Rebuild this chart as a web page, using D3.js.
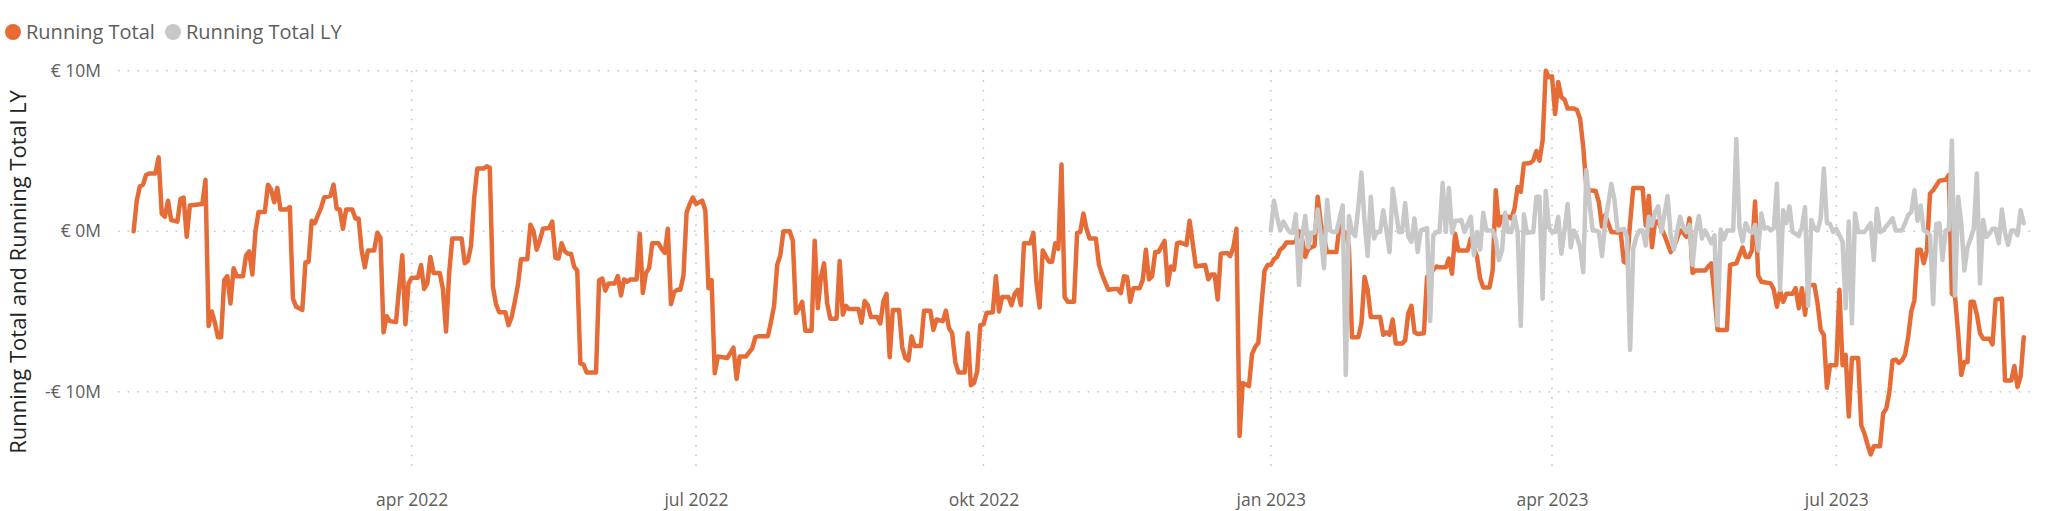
<!DOCTYPE html>
<html>
<head>
<meta charset="utf-8">
<title>Running Total</title>
<script src="https://cdn.jsdelivr.net/npm/d3@7"></script>
<style>
    body { margin: 0; background: #ffffff; }
    svg { display: block; }
</style>
</head>
<body>
<svg id="drawing_region"></svg>
<script>
// days counted from 1 jan 2022, values in millions of euro
const rtDays = [1,2,3,4,5,6,8,9,10,11,12,13,15,16,17,18,19,23,24,25,26,27,28,29,30,31,32,33,34,36,37,38,39,40,41,43,44,45,46,47,48,50,51,52,53,54,55,56,57,58,59,60,61,62,64,65,66,67,68,69,71,72,73,74,75,76,78,79,80,81,82,83,85,86,87,88,89,90,
    92,93,94,95,96,97,99,100,101,102,103,106,107,108,109,110,111,113,114,115,116,117,118,120,121,122,123,124,125,127,128,129,130,131,132,134,135,136,137,138,139,140,141,142,143,144,145,146,149,150,151,152,153,155,156,157,158,159,160,162,163,164,165,166,167,169,170,171,172,173,174,175,176,177,178,179,180,181,
    183,184,185,186,187,188,191,193,194,195,197,199,200,201,204,205,206,207,208,209,211,212,213,214,215,216,218,219,220,221,222,223,224,226,227,228,229,230,233,234,235,236,237,239,240,241,242,243,244,246,247,248,249,250,251,253,254,256,257,258,260,261,262,263,264,265,267,268,269,270,271,272,273,274,276,277,
    278,279,281,282,283,284,285,286,288,289,290,291,292,293,294,295,296,297,298,299,300,302,303,304,305,306,307,309,310,311,313,315,316,317,318,319,320,321,323,324,325,326,327,328,329,331,332,333,334,335,336,338,339,340,341,344,345,346,347,348,349,351,352,353,354,355,356,358,359,360,361,362,363,364,365,366,367,368,369,370,372,373,
    374,375,376,377,378,379,380,381,383,386,387,388,389,390,391,393,394,395,396,397,400,401,402,403,404,405,407,408,409,410,411,412,414,415,416,417,418,419,421,422,423,424,425,428,429,431,432,433,435,436,437,438,439,441,442,443,444,445,446,448,449,450,451,452,453,454,455,456,457,458,459,460,462,463,464,465,466,467,469,470,471,472,473,474,477,478,479,480,481,484,485,486,487,
    488,489,491,493,494,496,497,498,499,500,501,504,505,506,507,508,509,511,512,514,516,517,518,519,520,521,522,525,526,527,528,529,530,532,533,534,535,536,537,539,540,541,542,543,544,546,547,548,549,550,551,553,554,555,556,557,558,560,561,562,563,564,565,566,567,568,569,570,571,572,573,574,575,576,577,578,579,581,582,583,584,585,586,587,588,589,590,591,592,593,595,596,597,599,600,602,603,604,605,606];
const rtValues = [0,1.9,2.8,2.9,3.5,3.6,3.6,4.6,1.1,0.9,1.9,0.7,0.6,2.0,2.1,-0.35,1.6,1.7,3.2,-5.9,-5.0,-5.7,-6.6,-6.6,-3.05,-2.8,-4.5,-2.3,-2.8,-2.8,-1.5,-1.25,-2.7,0,1.2,1.2,2.9,2.6,1.8,2.7,1.35,1.35,1.5,-4.2,-4.7,-4.8,-4.9,-1.95,-1.9,0.65,0.5,1.0,1.45,2.1,2.2,2.9,1.4,1.35,0.15,1.35,1.35,0.8,0.8,-1.2,-2.25,-1.2,-1.2,-0.1,-0.4,-6.3,-5.3,-5.6,-5.65,-3.5,-1.5,-5.8,-3.25,-2.9,
    -2.9,-2.1,-3.6,-3.25,-1.6,-2.6,-2.6,-3.6,-6.25,-2.6,-0.45,-0.45,-2.0,-1.85,-0.9,2.05,3.9,3.9,4.05,3.95,-3.45,-4.55,-5.05,-5.05,-5.85,-5.35,-4.4,-3.35,-1.75,-1.75,0.4,0,-1.15,-0.6,0.15,0.2,0.6,-1.65,-1.7,-0.75,-1.25,-1.4,-1.4,-2.2,-2.45,-8.25,-8.3,-8.8,-8.8,-3.05,-2.95,-3.7,-3.25,-3.25,-2.8,-4.0,-3.0,-3.15,-3.0,-3.0,-0.15,-3.85,-2.6,-2.3,-0.75,-0.75,-1.1,-1.35,0.15,-4.55,-3.8,-3.65,-3.65,-2.75,1.15,1.7,2.1,1.7,
    1.9,1.3,-3.55,-3.05,-8.85,-7.8,-7.9,-7.25,-9.2,-7.8,-7.8,-7.3,-6.6,-6.55,-6.55,-5.65,-4.65,-2.1,-1.5,0,0,-0.6,-5.1,-4.8,-4.4,-6.2,-6.2,-0.6,-4.8,-2.85,-2.0,-4.5,-5.45,-5.45,-1.85,-5.2,-4.65,-4.85,-4.85,-5.7,-4.35,-4.6,-5.35,-5.35,-5.75,-4.35,-3.9,-7.85,-4.9,-4.9,-7.2,-7.9,-8.05,-6.55,-7.15,-7.15,-4.95,-4.95,-6.15,-5.5,-5.6,-4.95,-6.05,-6.35,-8.15,-8.8,-8.8,-6.35,-9.6,-9.45,-8.75,-5.85,-5.8,-5.1,-5.05,-2.8,
    -5.0,-4.1,-4.1,-4.6,-3.9,-3.65,-4.6,-0.75,-0.75,-0.1,-3.25,-4.75,-1.2,-1.55,-1.9,-1.9,-0.75,-1.1,4.15,-4.1,-4.4,-4.4,-0.1,-0.05,1.1,0.15,-0.45,-0.45,-2.1,-2.7,-3.65,-3.6,-3.6,-3.85,-2.8,-2.85,-4.4,-3.55,-3.55,-3.05,-1.15,-3.0,-2.8,-1.3,-1.3,-0.6,-3.35,-2.2,-2.4,-0.75,-0.7,-0.85,0.65,-0.75,-2.2,-2.1,-3.0,-2.7,-2.7,-4.25,-1.4,-1.35,-1.55,-1.0,0.15,-12.75,-9.45,-9.65,-7.65,-7.2,-6.95,-4.6,-2.45,-2.1,-2.1,-1.75,-1.6,-1.15,-1.0,-0.7,-0.7,-0.65,
    0,-0.5,-1.6,-1.1,-1.0,-0.9,2.15,0.5,-1.3,-1.3,0.35,0,-0.1,-1.0,-6.6,-6.6,-5.75,-2.85,-3.65,-5.35,-5.35,-6.45,-6.3,-6.45,-5.5,-7.0,-7.0,-6.8,-5.1,-4.65,-6.3,-6.4,-6.35,-2.85,-2.65,-2.4,-2.2,-2.25,-2.25,-1.7,-2.65,-0.15,-1.2,-1.2,-0.45,-1.6,-2.95,-3.5,-3.5,-2.45,2.55,0.35,0.9,0.9,0.8,1.4,2.75,2.45,4.2,4.25,4.4,5.0,4.4,5.65,10.0,9.6,9.65,7.3,9.3,8.35,8.2,7.65,7.65,7.55,7.0,5.25,2.75,2.55,2.5,1.8,0.3,1.0,0.5,-0.05,-0.1,-1.9,-2.0,0.5,2.7,2.7,0.35,2.2,-1.0,
    0.6,0.6,-0.25,-1.3,-1.0,0.05,-0.1,-0.35,0.8,-2.6,-2.45,-2.45,-2.2,-2.0,-4.0,-6.15,-6.15,-6.15,-2.1,-2.0,-1.0,-1.6,-1.6,-1.2,1.85,-2.75,-3.15,-3.25,-3.65,-4.7,-3.7,-4.4,-3.9,-3.9,-3.55,-4.8,-3.55,-5.2,-3.35,-3.35,-4.5,-6.15,-6.45,-9.75,-8.35,-8.35,-3.65,-8.35,-7.7,-11.55,-7.9,-7.9,-12.1,-12.6,-13.3,-13.9,-13.4,-13.4,-11.35,-11.05,-10.0,-8.05,-8.0,-8.2,-8.05,-7.7,-6.6,-5.0,-4.3,-1.15,-1.15,-2.0,-1.2,2.35,2.55,2.85,3.15,3.2,3.5,-3.9,-4.05,-6.35,-8.95,-8.15,-8.15,-4.4,-4.4,-5.2,-6.35,-6.7,-6.7,-7.05,-4.25,-4.2,-9.3,-9.3,-8.4,-9.7,-9.05,-6.6];

const lyDays = [365,366,367,368,369,370,371,372,373,374,375,376,377,378,379,380,381,382,383,384,385,386,388,389,390,391,392,393,394,395,396,397,398,399,400,401,402,403,404,405,406,407,408,409,410,411,412,413,415,416,417,418,419,420,421,422,423,424,425,426,427,429,430,431,432,433,434,436,437,438,439,440,441,442,443,444,445,446,447,449,450,451,452,453,454,455,456,457,458,459,460,461,462,463,464,465,466,467,468,469,470,471,472,474,475,476,478,479,480,481,482,483,484,485,486,
    487,488,489,490,492,493,494,495,496,497,498,499,500,501,502,503,504,505,506,507,508,509,510,511,513,514,515,516,517,518,519,520,521,522,523,524,525,526,527,528,529,530,531,532,533,534,535,536,537,538,539,540,541,542,543,544,545,546,547,548,549,550,551,552,553,555,557,558,559,560,561,562,564,565,567,568,569,570,571,572,573,574,575,576,577,578,579,580,581,582,583,584,585,586,587,588,589,590,591,592,593,594,595,596,597,598,599,600,601,602,603,604,605,606];
const lyValues = [0.05,1.9,0.9,0.05,0.6,0.25,-0.05,-0.1,1.05,-3.35,-0.35,0.95,-1.0,-0.1,-0.1,1.35,-0.25,-2.3,1.95,0.05,-0.05,-0.05,1.6,-8.95,0.95,-0.05,-0.3,1.5,3.65,0.6,-1.55,2.15,-0.45,-0.05,-0.05,1.3,0.05,-1.3,2.65,1.3,-0.05,-0.05,1.75,-0.35,-0.65,0.8,-1.3,0.05,0.2,-5.6,-0.25,-0.05,-0.05,3.0,-0.05,2.7,-0.1,0.65,0.65,0.7,-0.05,0.9,-1.5,-0.05,-1.15,1.15,0.05,0.05,-0.5,-1.8,-1.2,1.15,-0.05,-0.05,0.95,-0.05,-5.9,1.05,-0.1,-0.05,2.15,2.15,-4.2,2.5,0.25,-0.05,-0.05,0.9,-1.4,0.05,1.7,-1.0,0.05,-0.35,-1.0,-2.55,3.8,1.8,0.05,0.05,-0.05,-1.55,0.5,2.95,1.95,0.05,0.15,-0.35,-7.4,-1.1,-0.35,0.05,0.05,-0.9,0.9,
    0.35,1.2,1.55,-0.05,2.2,-0.25,-1.15,-0.05,0.9,0.25,-0.05,0.4,-2.1,-0.05,0.95,-0.45,0.05,-0.35,-0.75,-0.25,-5.85,0.1,-0.5,0.05,0.05,5.75,0.25,-0.65,0.5,0.05,-0.1,0.4,-1.2,1.1,0.15,0.25,0.05,0.2,2.95,-3.65,1.3,0.5,1.55,-0.05,-0.15,-0.3,0.25,1.5,-4.65,0.7,0.15,0.05,0.8,3.9,0.5,0.45,-0.05,0.15,-0.25,-0.65,-4.8,0.6,-5.75,1.1,-0.05,-0.05,0.5,-1.8,1.4,-0.05,0.05,0.3,0.8,0.05,0.05,0.5,1.0,1.2,2.55,0.65,1.6,0.05,-0.05,-0.25,-4.55,0.45,0.5,-1.8,0.05,0.1,5.65,-4.0,2.15,0.5,-2.45,-1.0,-0.45,0.15,3.6,-3.25,0.7,-0.35,-0.15,0.15,0.15,-0.75,1.35,-0.1,-0.85,0.05,0.05,-0.25,1.3,0.5];

const seriesNames = ['Running Total', 'Running Total LY'];
const seriesColors = ['#E66C37', '#C8C8C8'];
const yTicks = [-10, 0, 10];
const yTickLabels = ['-€ 10M', '€ 0M', '€ 10M'];
const xTickDates = ['2022-04-01', '2022-07-01', '2022-10-01', '2023-01-01', '2023-04-01', '2023-07-01'];
const xTickLabels = ['apr 2022', 'jul 2022', 'okt 2022', 'jan 2023', 'apr 2023', 'jul 2023'];
const yTitle = 'Running Total and Running Total LY';

const startDate = Date.UTC(2022, 0, 1);
const toDate = d => d3.utcDay.offset(new Date(startDate), d);

class LineChart {

    constructor( config, series ) {
        this.config = {
            parent: config.parent,
            width: config.width || 256,
            height: config.height || 128,
            margin: config.margin || {top:10, right:10, bottom:20, left:60}
        }
        this.series = series;
        this.init();
    }

    init() {
        let self = this;

        self.svg = d3.select( self.config.parent )
            .attr('width', self.config.width)
            .attr('height', self.config.height)
            .style('font-family', '"Segoe UI", "Open Sans", sans-serif');

        self.chart = self.svg.append('g')
            .attr('transform', `translate(${self.config.margin.left}, ${self.config.margin.top})`);

        self.inner_width = self.config.width - self.config.margin.left - self.config.margin.right;
        self.inner_height = self.config.height - self.config.margin.top - self.config.margin.bottom;

        self.xscale = d3.scaleUtc()
            .domain([toDate(-4), toDate(608)])
            .range([0, self.inner_width]);

        self.yscale = d3.scaleLinear()
            .domain([-15, 10])
            .range([self.inner_height, 0]);

        self.grid_group = self.chart.append('g');
        self.line_group = self.chart.append('g');
        self.xaxis_group = self.chart.append('g')
            .attr('transform', `translate(0, ${self.inner_height})`);
        self.yaxis_group = self.chart.append('g');

        // legend
        self.legend = self.svg.append('g');
        let lx = [13, 173];
        self.series.forEach( (s, i) => {
            self.legend.append('circle')
                .attr('cx', lx[i])
                .attr('cy', 32)
                .attr('r', 8)
                .attr('fill', s.color);
            self.legend.append('text')
                .attr('x', lx[i] + 13)
                .attr('y', 39)
                .attr('fill', '#605E5C')
                .attr('font-size', '20px')
                .text(s.name);
        });

        self.ylabel = self.svg.append('text')
            .attr('fill', '#252423')
            .attr('x', -272)
            .attr('y', 26)
            .attr('transform', 'rotate(-90)')
            .attr('text-anchor', 'middle')
            .attr('font-size', '22px')
            .attr('font-weight', 500)
            .text(yTitle);
    }

    update() {
        let self = this;
        self.series.forEach( s => {
            s.points = s.days.map( (d, i) => ({ date: toDate(d), value: s.values[i] }) );
        });
        self.render();
    }

    render() {
        let self = this;

        // dotted grid lines
        self.grid_group.selectAll('.hgrid').data(yTicks).enter()
            .append('line')
            .attr('x1', 0)
            .attr('x2', self.inner_width)
            .attr('y1', d => self.yscale(d))
            .attr('y2', d => self.yscale(d))
            .attr('stroke', '#C8C6C4')
            .attr('stroke-width', 1.6)
            .attr('stroke-dasharray', '1.6,8');

        self.grid_group.selectAll('.vgrid').data(xTickDates).enter()
            .append('line')
            .attr('x1', d => self.xscale(new Date(d)))
            .attr('x2', d => self.xscale(new Date(d)))
            .attr('y1', self.yscale(10))
            .attr('y2', self.inner_height)
            .attr('stroke', '#C8C6C4')
            .attr('stroke-width', 1.6)
            .attr('stroke-dasharray', '1.6,8');

        const line = d3.line()
            .x(d => self.xscale(d.date))
            .y(d => self.yscale(d.value));

        self.line_group.selectAll('path').data(self.series).enter()
            .append('path')
            .attr('d', d => line(d.points))
            .attr('fill', 'none')
            .attr('stroke', d => d.color)
            .attr('stroke-width', 4.5)
            .attr('stroke-linejoin', 'round')
            .attr('stroke-linecap', 'round');

        self.xaxis = d3.axisBottom( self.xscale )
            .tickValues(xTickDates.map(d => new Date(d)))
            .tickFormat((d, i) => xTickLabels[i])
            .tickSize(0)
            .tickPadding(22);

        self.yaxis = d3.axisLeft( self.yscale )
            .tickValues(yTicks)
            .tickFormat((d, i) => yTickLabels[i])
            .tickSize(0)
            .tickPadding(17);

        self.xaxis_group.call( self.xaxis );
        self.yaxis_group.call( self.yaxis );

        [self.xaxis_group, self.yaxis_group].forEach( g => {
            g.select('.domain').remove();
            g.selectAll('text')
                .attr('fill', '#605E5C')
                .attr('font-size', '17.5px')
                .attr('font-family', '"Segoe UI", "Open Sans", sans-serif');
        });
    }
}

const config = {
    parent: '#drawing_region',
    width: 2045,
    height: 511,
    margin: {top:70.7, right:15, bottom:39, left:118}
};

const series = [
    { name: seriesNames[0], color: seriesColors[0], days: rtDays, values: rtValues },
    { name: seriesNames[1], color: seriesColors[1], days: lyDays, values: lyValues }
];

const line_chart = new LineChart( config, series );
line_chart.update();
</script>
</body>
</html>
